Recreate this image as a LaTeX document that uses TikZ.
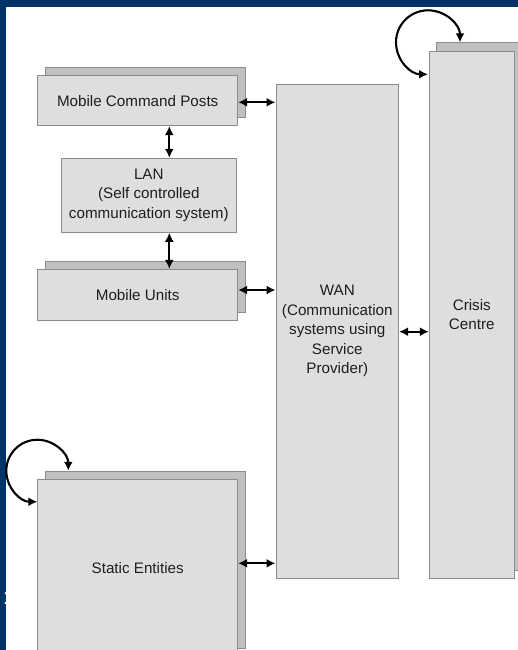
\documentclass[tikz,border=0pt]{standalone}
\usepackage{fontspec}
\setmainfont{Liberation Sans}
\usetikzlibrary{arrows.meta}
\definecolor{slideblue}{RGB}{0,51,102}
\definecolor{boxfill}{RGB}{222,222,222}
\definecolor{backfill}{RGB}{192,192,192}
\definecolor{boxline}{RGB}{140,140,140}
\definecolor{txt}{RGB}{30,30,30}
\begin{document}
\begin{tikzpicture}[x=1pt,y=1pt,
  front/.style={draw=boxline, fill=boxfill, line width=0.9pt, inner sep=0pt, align=center, text=txt, font=\fontsize{15.2}{19.5}\selectfont},
  back/.style={draw=boxline, fill=backfill, line width=0.9pt, inner sep=0pt},
  link/.style={line width=2.1pt, {Latex[length=9pt,width=9pt]}-{Latex[length=9pt,width=9pt]}}]
\useasboundingbox (0,0) rectangle (518,-650);
\fill[slideblue] (0,0) rectangle (518,-650);
\node[text=white, font=\bfseries\fontsize{20}{20}\selectfont, anchor=north west, inner sep=0pt] (pagenum) at (3.5,-591) {1};
\fill[white] (6,-7.5) rectangle (518,-650);

% back sheets
\node[back, minimum width=200pt, minimum height=49.7pt] (mcpb) at (145.7,-92.5) {};
\node[back, minimum width=200pt, minimum height=50.7pt] (mub) at (145.7,-286.7) {};
\node[back, minimum width=200pt, minimum height=177pt] (seb) at (145.7,-559.7) {};
\node[back, minimum width=85pt, minimum height=527.3pt] (ccb) at (479.2,-306.4) {};

% front boxes
\node[front, minimum width=200pt, minimum height=49.7pt] (mcp) at (137.7,-100.8) {Mobile Command Posts};
\node[front, minimum width=175.7pt, minimum height=74pt] (lan) at (148.8,-195.3) {LAN\\(Self controlled\\communication system)};
\node[front, minimum width=200pt, minimum height=50.7pt] (mu) at (137.7,-294.7) {Mobile Units};
\node[front, minimum width=200pt, minimum height=177pt] (se) at (137.7,-567.8) {Static Entities};
\node[front, minimum width=122.7pt, minimum height=494.3pt] (wan) at (337.3,-331.2) {WAN\\(Communication\\systems using\\Service\\Provider)};
\node[front, minimum width=85pt, minimum height=527.3pt] (cc) at (471.8,-314.7) {Crisis\\Centre};

% connectors
\draw[link] ([yshift=-1.5pt]mcp.east) -- ([yshift=-1.5pt]mcp.east -| wan.west);
\draw[link] ([yshift=4.7pt]mu.east) -- ([yshift=4.7pt]mu.east -| wan.west);
\draw[link] ([yshift=4.5pt]se.east) -- ([yshift=4.5pt]se.east -| wan.west);
\draw[link] ([yshift=-0.5pt]wan.east) -- ([yshift=-0.5pt]wan.east -| cc.west);
\draw[link] ([xshift=31.6pt]mcp.south) -- ([xshift=31.6pt]mcp.south |- lan.north);
\draw[link] ([xshift=20.5pt]lan.south) -- ([xshift=20.5pt]lan.south |- mu.north);

% self loops
\draw[link] ([xshift=-19.2pt]ccb.north) arc[start angle=0, end angle=270, radius=32pt];
\draw[link] ([xshift=-77.4pt]seb.north) arc[start angle=0, end angle=270, radius=31pt];
\end{tikzpicture}
\end{document}
